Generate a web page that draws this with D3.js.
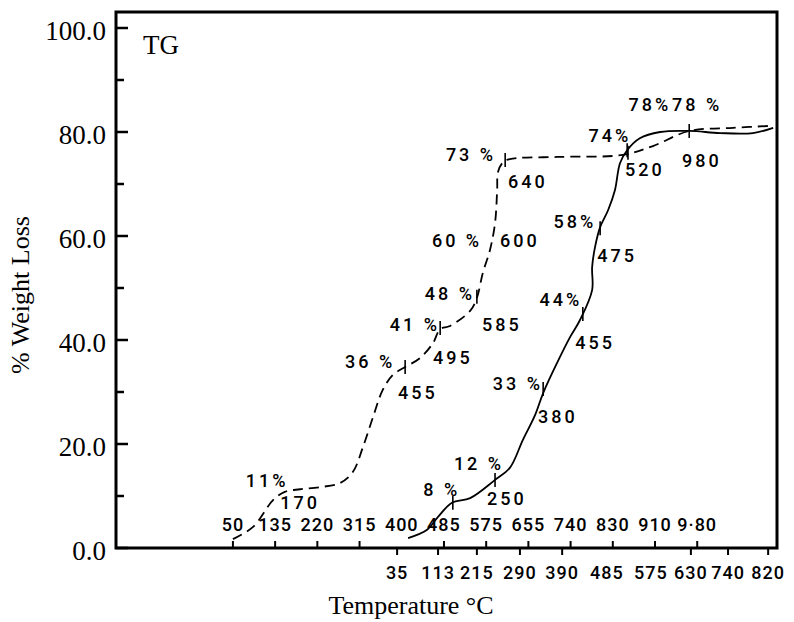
<!DOCTYPE html>
<head>
    <meta charset="utf-8">
    <title>TG</title>
</head>
<style>
    body { margin: 0; background: #fff; }
    svg { display: block; }
    .frame { fill: none; stroke: #000; stroke-width: 3px; }
    .curve { fill: none; stroke: #000; stroke-width: 1.8px; }
    .curve.dashed { stroke-dasharray: 10, 6; }
    .mark { stroke: #000; stroke-width: 1.6px; }
    .serif { font-family: "Liberation Serif", "Times New Roman", serif; fill: #000; }
    .note { font-family: Roboto, "DejaVu Sans", sans-serif; font-size: 18px; font-weight: 500; fill: #000; letter-spacing: 3px; }
    .tick-label { font-family: Roboto, "DejaVu Sans", sans-serif; font-size: 18px; font-weight: 500; fill: #000; letter-spacing: 1px; }
</style>
<body>
<script src="https://d3js.org/d3.v7.min.js"></script>
<script>
    var width = 794,
        height = 622;

    // x runs in axis units: the inner temperature ticks sit at 0, 1, 2 ...
    var innerTicks = ["50", "135", "220", "315", "400", "485", "575", "655", "740", "830", "910", "9·80"];
    var innerNoTick = ["400"];
    var outerTicks = ["35", "113", "215", "290", "390", "485", "575", "630", "740", "820"];
    var outerPos = [3.89, 4.86, 5.78, 6.80, 7.80, 8.86, 9.90, 10.85, 11.73, 12.68];
    var outerNoTick = ["485", "575"];

    var yMajor = [0, 20, 40, 60, 80, 100];
    var yMinor = [10, 30, 50, 70, 90];

    // dashed curve
    var dashedU = [0, 0.47, 0.95, 1.23, 1.59, 2.06, 2.54, 2.84, 3.08, 3.32, 3.55, 3.79, 4.08, 4.43, 4.74, 4.91,
                   5.14, 5.62, 5.78, 5.92, 6.09, 6.21, 6.26, 6.28, 6.40, 6.56, 7.68, 9.24, 9.95, 10.81, 11.85, 12.80];
    var dashedY = [1.7, 4.0, 9.2, 10.8, 11.3, 11.7, 12.5, 14.6, 19.4, 25.2, 30.4, 33.3, 34.8, 36.5, 39.4, 42.1,
                   42.7, 45.6, 48.1, 52.9, 57.3, 62.5, 68.8, 72.3, 74.2, 74.8, 75.2, 75.6, 77.3, 80.2, 80.8, 81.2];

    // solid curve
    var solidU = [4.15, 4.60, 4.86, 5.19, 5.62, 6.21, 6.56, 6.87, 7.16, 7.35, 7.68, 7.99, 8.22, 8.51, 8.51, 8.58,
                  8.70, 8.89, 9.05, 9.17, 9.34, 9.64, 10.12, 10.81, 11.54, 12.32, 12.80];
    var solidY = [1.9, 3.5, 6.0, 8.7, 9.6, 13.1, 15.4, 20.8, 25.6, 29.8, 35.6, 40.6, 43.8, 49.6, 54.0, 57.9,
                  61.7, 65.0, 68.8, 74.0, 76.5, 78.8, 80.0, 80.2, 79.8, 79.8, 80.8];

    // small marks across the curves
    var markU = [4.08, 4.91, 5.78, 6.45, 9.36, 10.81, 5.21, 6.21, 7.35, 8.29, 8.70, 9.34];
    var markY = [34.8, 42.3, 48.3, 74.6, 76.0, 80.2, 8.7, 13.1, 30.6, 45.0, 61.5, 76.5];

    // hand written notes next to the marks
    var noteText = ["11%", "170", "36 %", "455", "41 %", "495", "48 %", "585", "60 %", "600", "73 %", "640",
                    "74%", "520", "78%", "78 %", "980", "58%", "475", "44%", "455", "33 %", "380", "12 %", "250", "8 %"];
    var noteU = [0.81, 1.59, 3.25, 4.38, 4.31, 5.21, 5.14, 6.37, 5.31, 6.80, 5.64, 6.99,
                 8.93, 9.76, 9.88, 11.0, 11.11, 8.10, 9.10, 7.77, 8.58, 6.75, 7.70, 5.83, 6.49, 4.95];
    var noteY = [12.9, 8.8, 35.8, 30.0, 42.9, 36.7, 49.0, 42.9, 59.2, 59.2, 75.6, 70.4,
                 79.4, 72.7, 85.2, 85.2, 74.6, 62.7, 56.3, 47.7, 39.6, 31.7, 25.2, 16.3, 9.6, 11.2];

    var plotLeft = 116, plotRight = 777, plotTop = 12, plotBottom = 548;

    var x = d3.scaleLinear().domain([-2.77, 12.89]).range([plotLeft, plotRight]);
    var y = d3.scaleLinear().domain([0, 100]).range([plotBottom, 28]);

    var svg = d3.select("body").append("svg")
        .attr("width", width)
        .attr("height", height);

    // curves
    var line = d3.line()
        .x(function (d) { return x(d[0]); })
        .y(function (d) { return y(d[1]); })
        .curve(d3.curveCatmullRom);

    svg.append("path")
        .datum(d3.zip(dashedU, dashedY))
        .attr("class", "curve dashed")
        .attr("d", line);

    svg.append("path")
        .datum(d3.zip(solidU, solidY))
        .attr("class", "curve")
        .attr("d", line);

    svg.selectAll("line.mark")
        .data(d3.zip(markU, markY))
        .join("line")
        .attr("class", "mark")
        .attr("x1", function (d) { return x(d[0]); })
        .attr("x2", function (d) { return x(d[0]); })
        .attr("y1", function (d) { return y(d[1]) - 7; })
        .attr("y2", function (d) { return y(d[1]) + 7; });

    svg.selectAll("text.note")
        .data(d3.range(noteText.length))
        .join("text")
        .attr("class", "note")
        .attr("x", function (i) { return x(noteU[i]); })
        .attr("y", function (i) { return y(noteY[i]); })
        .attr("text-anchor", "middle")
        .attr("dominant-baseline", "central")
        .text(function (i) { return noteText[i]; });

    // y axis ticks, pointing inward
    svg.selectAll("line.ymajor")
        .data(yMajor)
        .join("line")
        .attr("class", "ymajor")
        .attr("x1", plotLeft).attr("x2", plotLeft + 12)
        .attr("y1", y).attr("y2", y)
        .attr("stroke", "#000").attr("stroke-width", 2.5);

    svg.selectAll("line.yminor")
        .data(yMinor)
        .join("line")
        .attr("class", "yminor")
        .attr("x1", plotLeft).attr("x2", plotLeft + 8)
        .attr("y1", y).attr("y2", y)
        .attr("stroke", "#000").attr("stroke-width", 2.5);

    svg.selectAll("text.ylab")
        .data(yMajor)
        .join("text")
        .attr("class", "ylab serif")
        .attr("x", plotLeft - 10)
        .attr("y", function (d) { return y(d) + 3; })
        .attr("text-anchor", "end")
        .attr("dominant-baseline", "central")
        .style("font-size", "27px")
        .text(function (d) { return d3.format(".1f")(d); });

    // inner temperature ticks (dashed curve)
    svg.selectAll("line.itick")
        .data(innerTicks.filter(function (t) { return innerNoTick.indexOf(t) < 0; }))
        .join("line")
        .attr("class", "itick")
        .attr("x1", function (t) { return x(innerTicks.indexOf(t)); })
        .attr("x2", function (t) { return x(innerTicks.indexOf(t)); })
        .attr("y1", plotBottom).attr("y2", plotBottom - 7)
        .attr("stroke", "#000").attr("stroke-width", 2);

    svg.selectAll("text.ilab")
        .data(innerTicks)
        .join("text")
        .attr("class", "ilab tick-label")
        .attr("x", function (t, i) { return x(i); })
        .attr("y", plotBottom - 24)
        .attr("text-anchor", "middle")
        .attr("dominant-baseline", "central")
        .text(function (t) { return t; });

    // outer temperature ticks (solid curve)
    svg.selectAll("line.otick")
        .data(d3.range(outerTicks.length).filter(function (i) { return outerNoTick.indexOf(outerTicks[i]) < 0; }))
        .join("line")
        .attr("class", "otick")
        .attr("x1", function (i) { return x(outerPos[i]); })
        .attr("x2", function (i) { return x(outerPos[i]); })
        .attr("y1", plotBottom).attr("y2", plotBottom + 7)
        .attr("stroke", "#000").attr("stroke-width", 2);

    svg.selectAll("text.olab")
        .data(outerTicks)
        .join("text")
        .attr("class", "olab tick-label")
        .attr("x", function (t, i) { return x(outerPos[i]); })
        .attr("y", plotBottom + 24)
        .attr("text-anchor", "middle")
        .attr("dominant-baseline", "central")
        .text(function (t) { return t; });

    // frame
    svg.append("path")
        .attr("class", "frame")
        .attr("d", "M" + plotLeft + "," + plotTop + "H" + plotRight + "V" + plotBottom + "H" + plotLeft + "Z");

    svg.append("text")
        .attr("class", "serif")
        .attr("x", 143)
        .attr("y", 54)
        .style("font-size", "27px")
        .text("TG");

    svg.append("text")
        .attr("class", "serif")
        .attr("transform", "translate(29,295) rotate(-90)")
        .attr("text-anchor", "middle")
        .style("font-size", "26px")
        .text("% Weight Loss");

    svg.append("text")
        .attr("class", "serif")
        .attr("x", 411)
        .attr("y", 614)
        .attr("text-anchor", "middle")
        .style("font-size", "26px")
        .text("Temperature °C");
</script>
</body>
